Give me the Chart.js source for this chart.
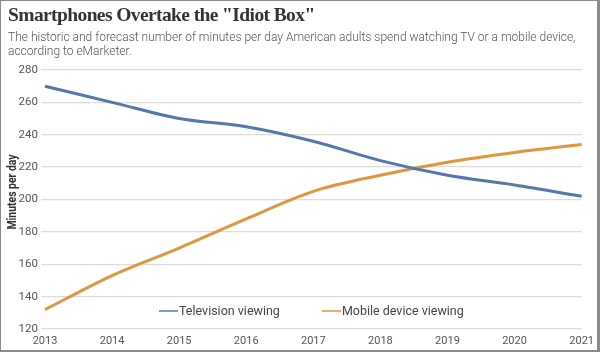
<!DOCTYPE html>
<html><head><meta charset="utf-8">
<script src="https://cdn.jsdelivr.net/npm/chart.js@4/dist/chart.umd.min.js"></script>
<style>
html,body{margin:0;padding:0;background:#fff;}
#wrap{position:relative;width:600px;height:352px;box-sizing:border-box;border:1px solid #8a8a8a;border-right-width:3px;border-bottom-width:2px;overflow:hidden;}
#title{position:absolute;left:7px;top:3px;font-family:"Liberation Serif",serif;font-weight:bold;font-size:19.5px;letter-spacing:-0.6px;color:#333;white-space:nowrap;}
#sub{position:absolute;left:7px;top:29px;width:590px;font-family:Roboto,sans-serif;font-weight:300;font-size:12px;line-height:14px;color:#555;}
#c{position:absolute;left:-1px;top:-1px;}
#legend{position:absolute;top:302px;left:158px;font-family:Roboto,sans-serif;font-size:12.5px;color:#444;white-space:nowrap;}
#legend span.sw{display:inline-block;width:19px;height:2px;vertical-align:middle;margin-right:1px;position:relative;top:-1px;}
#legend span.it{margin-right:42px;}
</style></head>
<body>
<div id="wrap">
<canvas id="c" width="600" height="352"></canvas>
<div id="title">Smartphones Overtake the "Idiot Box"</div>
<div id="sub">The historic and forecast number of minutes per day American adults spend watching TV or a mobile device, according to eMarketer.</div>
<div id="legend"><span class="it"><span class="sw" style="background:#7f9cc6"></span>Television viewing</span><span class="it"><span class="sw" style="background:#e8ad6c"></span>Mobile device viewing</span></div>
</div>
<script>
const years = ["2013","2014","2015","2016","2017","2018","2019","2020","2021"];
const tvViewing = [270, 260, 250, 245, 236, 224, 215, 209, 202];
const mobileViewing = [132, 153, 170, 188, 205, 215, 223, 229, 234];
const yTicks = [120, 140, 160, 180, 200, 220, 240, 260, 280];
const yTitle = 'Minutes per day';

const condensedYTitle = {
  id: 'condensedYTitle',
  afterDraw(chart) {
    const ctx = chart.ctx;
    ctx.save();
    ctx.translate(13, 192);
    ctx.rotate(-Math.PI / 2);
    ctx.scale(0.8, 1);
    ctx.font = 'bold 13px Roboto';
    ctx.fillStyle = '#333';
    ctx.textAlign = 'center';
    ctx.textBaseline = 'middle';
    ctx.fillText(yTitle, 0, 0);
    ctx.restore();
  }
};

new Chart(document.getElementById('c'), {
  type: 'line',
  data: {
    labels: years,
    datasets: [
      {label: 'Television viewing', data: tvViewing, borderColor: '#5577aa', borderWidth: 3, pointRadius: 0, cubicInterpolationMode: 'monotone', fill: false},
      {label: 'Mobile device viewing', data: mobileViewing, borderColor: '#e0953f', borderWidth: 3, pointRadius: 0, cubicInterpolationMode: 'monotone', fill: false}
    ]
  },
  plugins: [condensedYTitle],
  options: {
    responsive: false,
    animation: false,
    layout: {padding: {top: 70, right: 15, bottom: 2, left: 0}},
    plugins: {legend: {display: false}, tooltip: {enabled: false}},
    scales: {
      x: {
        offset: false,
        grid: {display: false, drawTicks: false},
        border: {display: false},
        ticks: {color: '#555', font: {family: 'Roboto', size: 11}, padding: 6, maxRotation: 0, autoSkip: false},
        afterFit: s => { s.height = 21; }
      },
      y: {
        min: 120, max: 280,
        afterBuildTicks: s => { s.ticks = yTicks.map(v => ({value: v})); },
        grid: {color: '#dcdcdc', lineWidth: 1.3, tickLength: 4, tickColor: '#dcdcdc'},
        border: {display: false},
        ticks: {color: '#555', font: {family: 'Roboto', size: 11.5}, padding: 3},
        title: {display: false},
        afterFit: s => { s.width = 45; }
      }
    }
  }
});
</script>
</body></html>
